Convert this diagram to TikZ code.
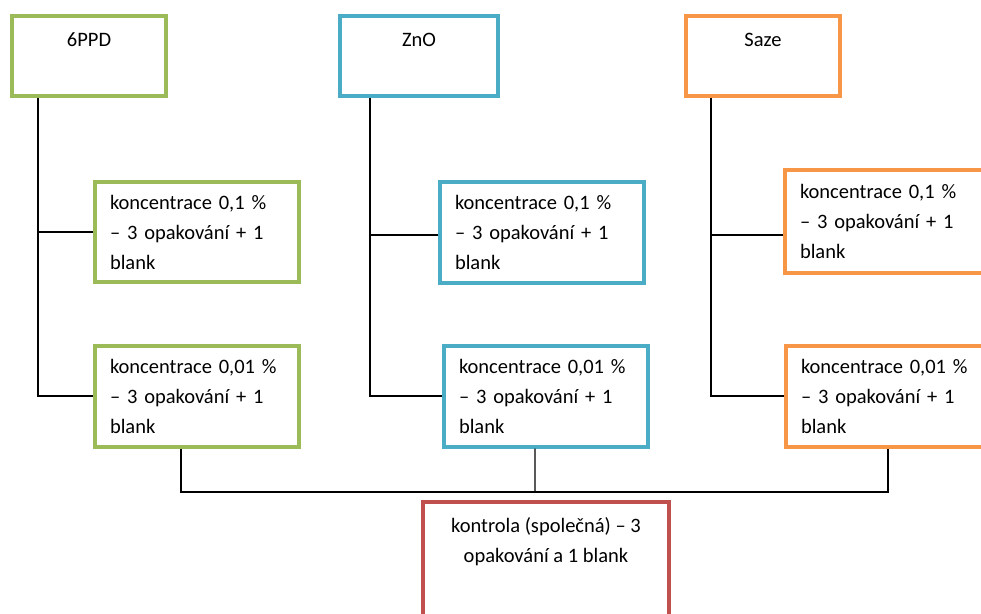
\documentclass[tikz,border=0pt]{standalone}
\usepackage{fontspec}
\setmainfont{Carlito}
\definecolor{grn}{RGB}{155,187,89}
\definecolor{blu}{RGB}{75,172,198}
\definecolor{org}{RGB}{247,150,70}
\definecolor{rot}{RGB}{192,80,77}
\tikzset{
  kasten/.style={draw=#1, line width=1.2mm, rectangle, inner sep=0pt},
  konz/.style={draw=#1, line width=1.2mm, rectangle, align=left, text width=52.2mm,
    inner xsep=4.5mm, inner ysep=0pt, minimum width=61.2mm},
  linie/.style={line width=1pt, black}
}
\begin{document}
\begin{tikzpicture}[x=0.3mm, y=-0.3mm, font=\fontsize{17.5}{25.6}\selectfont]
  \useasboundingbox (0,0) rectangle (981,613);
  \clip (0,0) rectangle (981,613);

  % Stoffe oben
  \node[kasten=grn, minimum width=45.9mm, minimum height=24mm] (ppd) at (89,56) {};
  \node[kasten=blu, minimum width=47.4mm, minimum height=24mm] (zno) at (419,56) {};
  \node[kasten=org, minimum width=46.2mm, minimum height=24mm] (saze) at (763,56) {};
  \node (ppdt) at (89,40) {6PPD};
  \node (znot) at (419,40) {ZnO};
  \node (sazet) at (763,40) {Saze};

  % Konzentrationen
  \node[konz=grn, minimum height=30mm] (g1) at (197,232) {koncentrace~0,1~\%\\–~3~opakování~+~1\\blank};
  \node[konz=grn, minimum height=30.3mm] (g2) at (197,396) {koncentrace~0,01~\%\\–~3~opakování~+~1\\blank};
  \node[konz=blu, minimum height=30.3mm] (b1) at (542,232) {koncentrace~0,1~\%\\–~3~opakování~+~1\\blank};
  \node[konz=blu, minimum height=30.3mm] (b2) at (546,396) {koncentrace~0,01~\%\\–~3~opakování~+~1\\blank};
  \node[konz=org, minimum height=30.9mm] (o1) at (887,221) {koncentrace~0,1~\%\\–~3~opakování~+~1\\blank};
  \node[konz=org, minimum height=30.3mm] (o2) at (888,396) {koncentrace~0,01~\%\\–~3~opakování~+~1\\blank};

  % Kontrolle unten
  \node[kasten=rot, minimum width=73.8mm, minimum height=45mm] (kon) at (546,577) {};
  \node[align=center] (kont) at (546,542) {kontrola (společná) – 3\\opakování a 1 blank};

  % Verbindungen
  \draw[linie] ([xshift=-15.3mm]ppd.south) |- (g1.west);
  \draw[linie] ([xshift=-15.3mm]ppd.south) |- (g2.west);
  \draw[linie] ([xshift=-14.7mm]zno.south) |- ([yshift=-0.9mm]b1.west);
  \draw[linie] ([xshift=-14.7mm]zno.south) |- (b2.west);
  \draw[linie] ([xshift=-15.6mm]saze.south) |- ([yshift=-4.2mm]o1.west);
  \draw[linie] ([xshift=-15.6mm]saze.south) |- (o2.west);

  % Sammelleitung
  \coordinate (bus) at (535,492);
  \draw[linie] ([xshift=-4.8mm]g2.south) |- (bus) -| (o2.south);
  \draw[linie] ([xshift=-3.3mm]b2.south) -- (bus);
\end{tikzpicture}
\end{document}
